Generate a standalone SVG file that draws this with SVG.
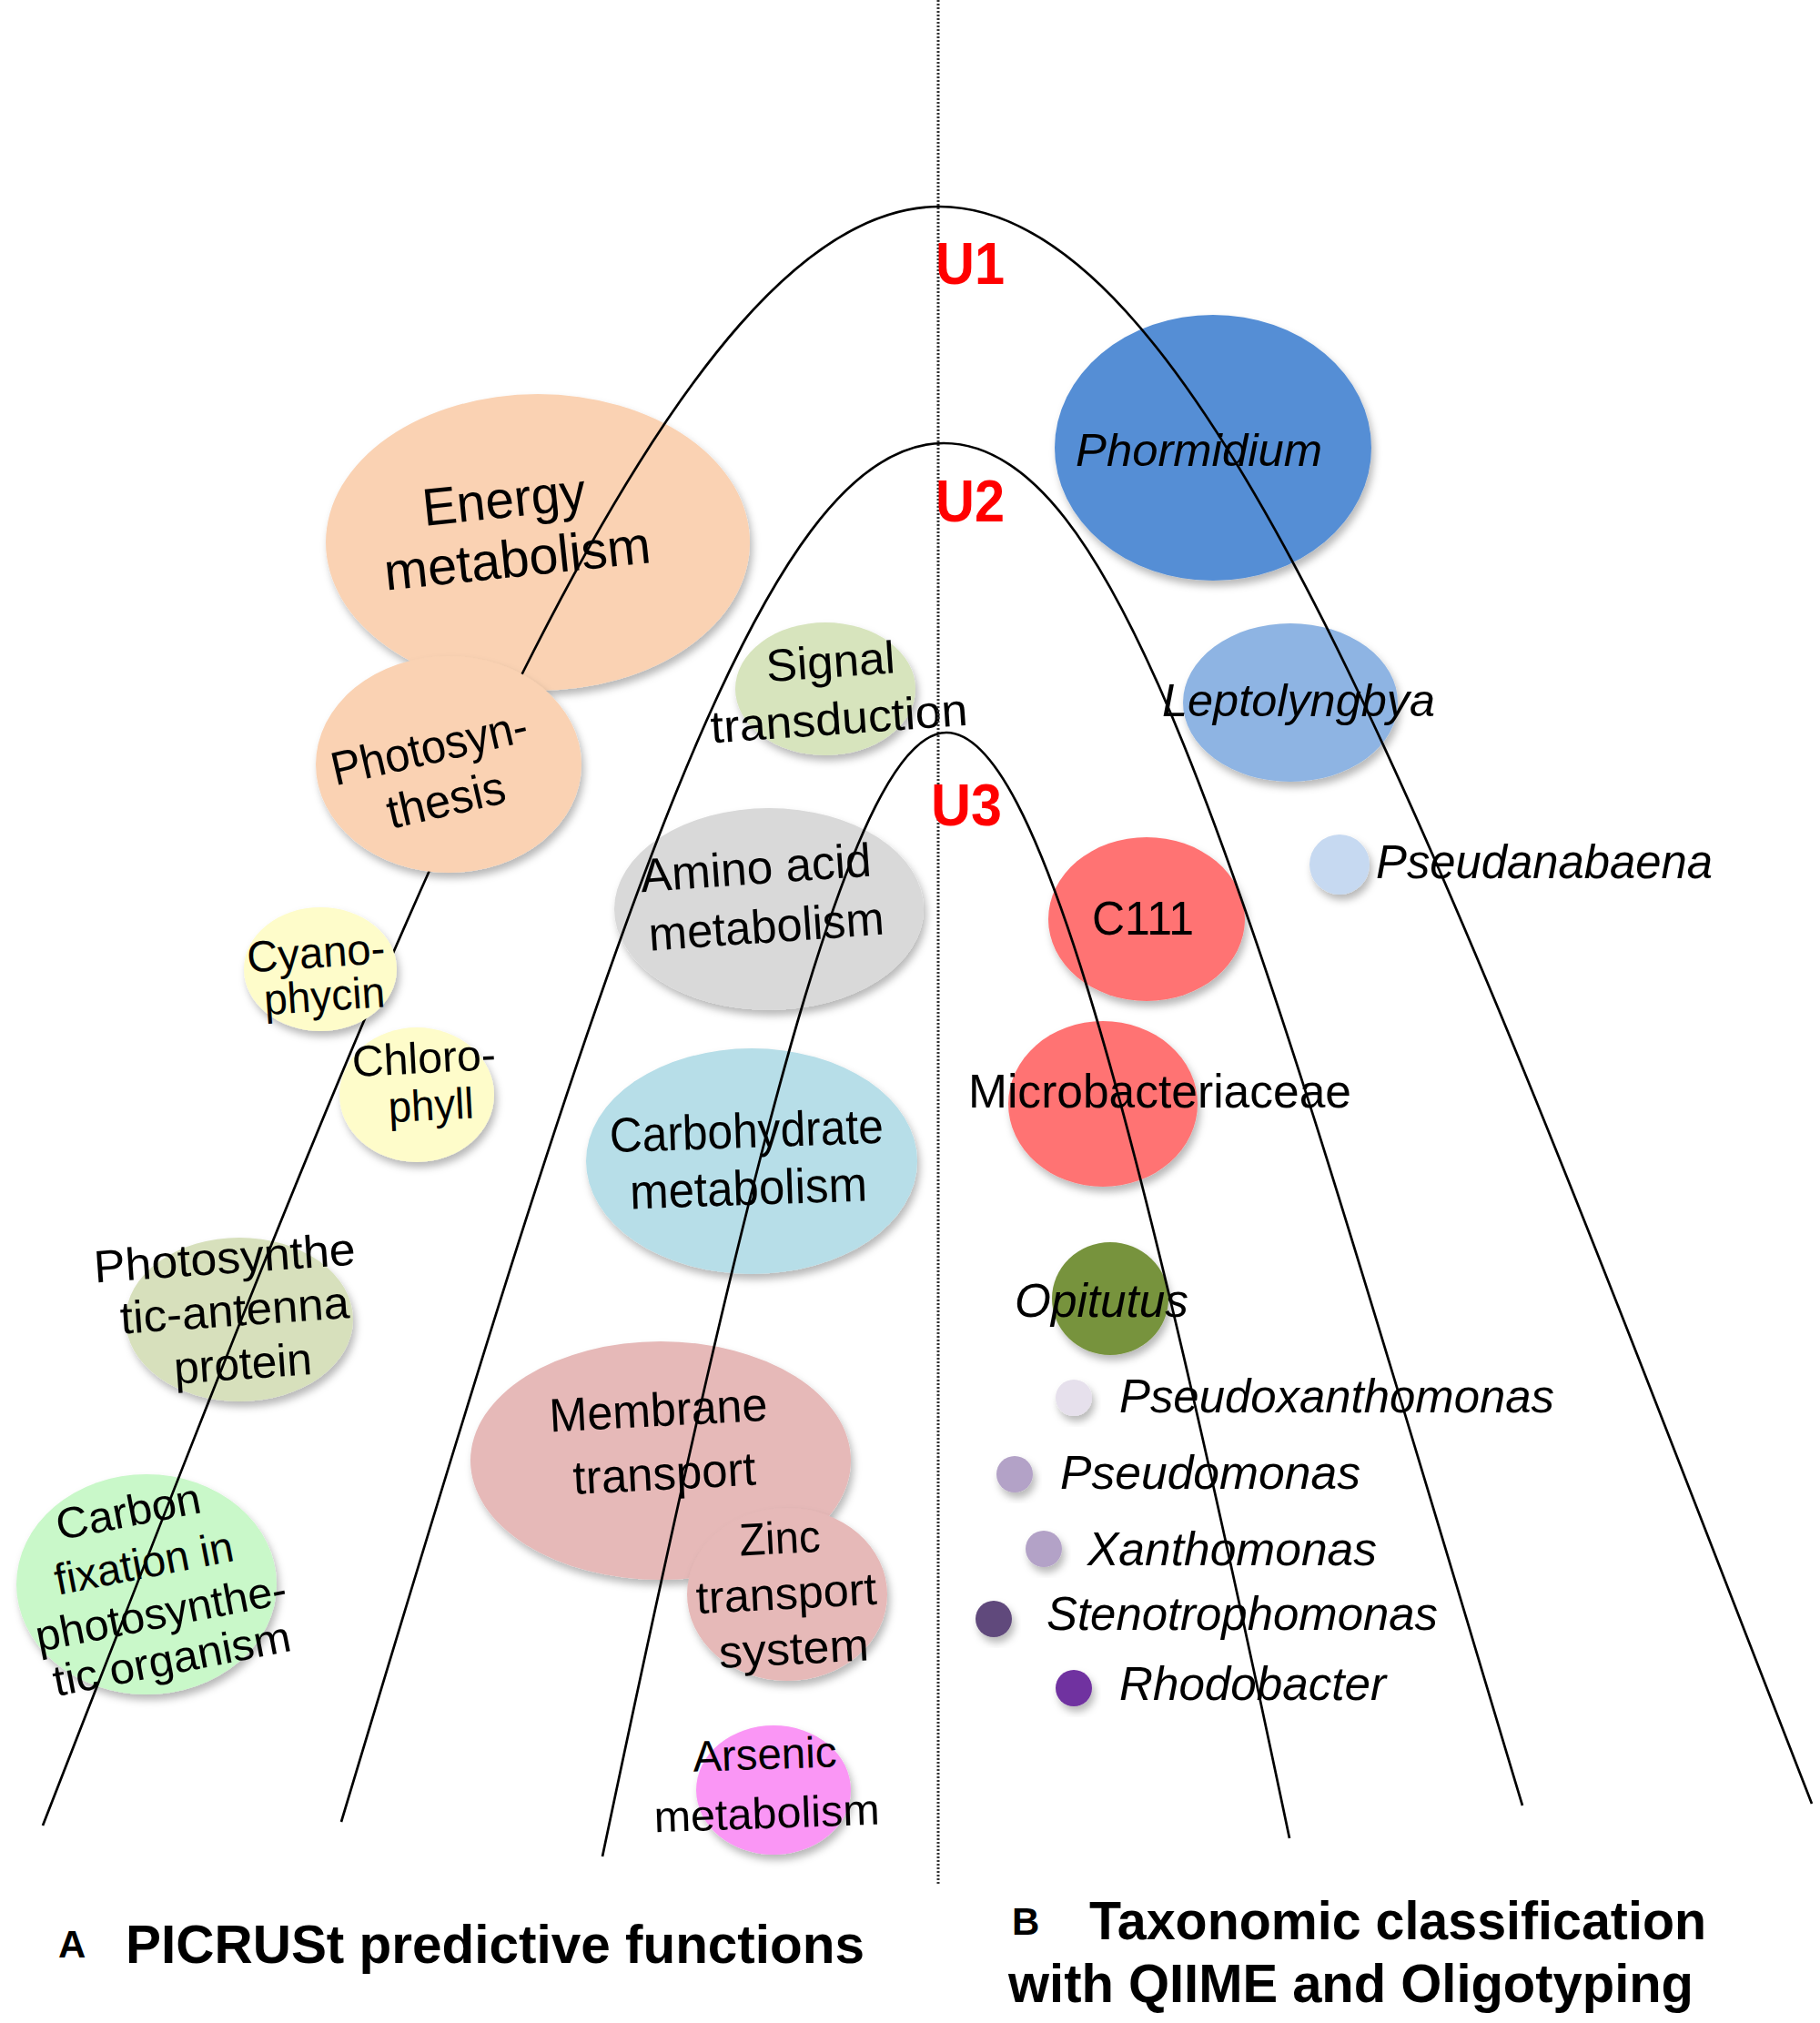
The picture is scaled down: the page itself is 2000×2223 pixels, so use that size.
<svg xmlns="http://www.w3.org/2000/svg" width="2000" height="2223" viewBox="0 0 2000 2223">
<defs>
<filter id="sh" x="-20%" y="-20%" width="145%" height="150%">
<feDropShadow dx="3" dy="6" stdDeviation="4" flood-color="#000" flood-opacity="0.28"/>
</filter>
<style>
.t{font-family:"Liberation Sans",Arial,sans-serif;fill:#000;}
.m{text-anchor:middle;}
.i{font-style:italic;}
.b{font-weight:bold;}
.e{filter:url(#sh);}
.curve{fill:none;stroke:#000;stroke-width:2.7;}
.dot{stroke:#333;stroke-width:3;stroke-dasharray:2 2;}
.u{font-family:"Liberation Sans",Arial,sans-serif;font-weight:bold;fill:#FF0000;font-size:64px;}
</style>
</defs>
<rect width="2000" height="2223" fill="#fff"/>

<g id="energy">
<ellipse class="e" cx="591" cy="596" rx="233" ry="163" fill="#FAD2B3"/>
<g transform="rotate(-6 563 600)">
<text class="t m" x="559" y="568" font-size="58" textLength="180" lengthAdjust="spacingAndGlyphs">Energy</text>
<text class="t m" x="567" y="634" font-size="58" textLength="294" lengthAdjust="spacingAndGlyphs">metabolism</text>
</g>
</g>
<g id="signal">
<ellipse class="e" cx="907" cy="757" rx="99" ry="73" fill="#D7E4BD"/>
<g transform="rotate(-4 918 775)">
<text class="t m" x="916" y="744" font-size="50" textLength="142" lengthAdjust="spacingAndGlyphs">Signal</text>
<text class="t m" x="921" y="807" font-size="50" textLength="283" lengthAdjust="spacingAndGlyphs">transduction</text>
</g>
</g>
<g id="amino">
<ellipse class="e" cx="845" cy="999" rx="170" ry="111" fill="#D9D9D9"/>
<g transform="rotate(-4 838 1003)">
<text class="t m" x="834" y="971" font-size="52" textLength="254" lengthAdjust="spacingAndGlyphs">Amino acid</text>
<text class="t m" x="841" y="1036" font-size="52" textLength="259" lengthAdjust="spacingAndGlyphs">metabolism</text>
</g>
</g>
<g id="carbohydrate">
<ellipse class="e" cx="826" cy="1276" rx="182" ry="124" fill="#B7DEE8"/>
<g transform="rotate(-2 822 1292)">
<text class="t m" x="822" y="1261" font-size="54" textLength="301" lengthAdjust="spacingAndGlyphs">Carbohydrate</text>
<text class="t m" x="822" y="1324" font-size="54" textLength="261" lengthAdjust="spacingAndGlyphs">metabolism</text>
</g>
</g>
<g id="membrane">
<ellipse class="e" cx="726" cy="1605" rx="209" ry="131" fill="#E6B9B8"/>
<g transform="rotate(-3 727 1600)">
<text class="t m" x="726" y="1567" font-size="52" textLength="240" lengthAdjust="spacingAndGlyphs">Membrane</text>
<text class="t m" x="729" y="1637" font-size="52" textLength="201" lengthAdjust="spacingAndGlyphs">transport</text>
</g>
</g>
<g id="zinc">
<ellipse class="e" cx="865" cy="1752" rx="110" ry="95" fill="#E6B9B8"/>
<g transform="rotate(-3 865 1768)">
<text class="t m" x="861" y="1707" font-size="50" textLength="89" lengthAdjust="spacingAndGlyphs">Zinc</text>
<text class="t m" x="865" y="1768" font-size="50" textLength="199" lengthAdjust="spacingAndGlyphs">transport</text>
<text class="t m" x="870" y="1829" font-size="50" textLength="165" lengthAdjust="spacingAndGlyphs">system</text>
</g>
</g>
<g id="arsenic">
<ellipse class="e" cx="850" cy="1967" rx="85" ry="71" fill="#FA96F5"/>
<g transform="rotate(-2 842 1976)">
<text class="t m" x="842" y="1944" font-size="48" textLength="158" lengthAdjust="spacingAndGlyphs">Arsenic</text>
<text class="t m" x="842" y="2009" font-size="48" textLength="248" lengthAdjust="spacingAndGlyphs">metabolism</text>
</g>
</g>
<g id="chlorophyll">
<ellipse class="e" cx="458" cy="1203" rx="85" ry="74" fill="#FEFCCA"/>
<g transform="rotate(-3 470 1205)">
<text class="t m" x="468" y="1179" font-size="48" textLength="158" lengthAdjust="spacingAndGlyphs">Chloro-</text>
<text class="t m" x="473" y="1231" font-size="48" textLength="94" lengthAdjust="spacingAndGlyphs">phyll</text>
</g>
</g>
<g id="antenna">
<ellipse class="e" cx="263" cy="1450" rx="125" ry="90" fill="#D7E0BC"/>
<g transform="rotate(-4 257 1457)">
<text class="t m" x="252" y="1399" font-size="50" textLength="288" lengthAdjust="spacingAndGlyphs">Photosynthe</text>
<text class="t m" x="259" y="1457" font-size="50" textLength="252" lengthAdjust="spacingAndGlyphs">tic-antenna</text>
<text class="t m" x="264" y="1516" font-size="50" textLength="152" lengthAdjust="spacingAndGlyphs">protein</text>
</g>
</g>
<g id="carbon">
<ellipse class="e" cx="161" cy="1741" rx="143" ry="121" fill="#C9F8C9"/>
<g transform="rotate(-11 168 1758)">
<text class="t m" x="160" y="1674" font-size="48" textLength="161" lengthAdjust="spacingAndGlyphs">Carbon</text>
<text class="t m" x="166" y="1733" font-size="48" textLength="199" lengthAdjust="spacingAndGlyphs">fixation in</text>
<text class="t m" x="174" y="1790" font-size="48" textLength="280" lengthAdjust="spacingAndGlyphs">photosynthe-</text>
<text class="t m" x="176" y="1842" font-size="48" textLength="265" lengthAdjust="spacingAndGlyphs">tic organism</text>
</g>
</g>
<g id="phormidium">
<ellipse class="e" cx="1333" cy="492" rx="174" ry="146" fill="#558ED5"/>
<text class="t i" x="1182" y="512" font-size="50" textLength="271" lengthAdjust="spacingAndGlyphs">Phormidium</text>
</g>
<g id="leptolyngbya">
<ellipse class="e" cx="1418" cy="772" rx="118" ry="87" fill="#8EB4E3"/>
<text class="t i" x="1277" y="787" font-size="50" textLength="300" lengthAdjust="spacingAndGlyphs">Leptolyngbya</text>
</g>
<g id="pseudanabaena">
<circle class="e" cx="1472" cy="950" r="33" fill="#C6D9F1"/>
<text class="t i" x="1512" y="965" font-size="51" textLength="370" lengthAdjust="spacingAndGlyphs">Pseudanabaena</text>
</g>
<g id="c111">
<ellipse class="e" cx="1260" cy="1010" rx="108" ry="90" fill="#FF7373"/>
<text class="t" x="1200" y="1027" font-size="52" textLength="112" lengthAdjust="spacingAndGlyphs">C111</text>
</g>
<g id="microbacteriaceae">
<ellipse class="e" cx="1212" cy="1213" rx="104" ry="91" fill="#FF7373"/>
<text class="t" x="1064" y="1217" font-size="52" textLength="421" lengthAdjust="spacingAndGlyphs">Microbacteriaceae</text>
</g>
<g id="opitutus">
<ellipse class="e" cx="1220" cy="1427" rx="64" ry="62" fill="#77933C"/>
<text class="t i" x="1115" y="1447" font-size="52" textLength="191" lengthAdjust="spacingAndGlyphs">Opitutus</text>
</g>
<g id="pseudoxanthomonas">
<circle class="e" cx="1180" cy="1536" r="20" fill="#E6E0EC"/>
<text class="t i" x="1230" y="1552" font-size="52" textLength="478" lengthAdjust="spacingAndGlyphs">Pseudoxanthomonas</text>
</g>
<g id="pseudomonas">
<circle class="e" cx="1115" cy="1620" r="20" fill="#B3A2C7"/>
<text class="t i" x="1165" y="1636" font-size="52" textLength="330" lengthAdjust="spacingAndGlyphs">Pseudomonas</text>
</g>
<g id="xanthomonas">
<circle class="e" cx="1147" cy="1702" r="20" fill="#B3A2C7"/>
<text class="t i" x="1195" y="1720" font-size="52" textLength="318" lengthAdjust="spacingAndGlyphs">Xanthomonas</text>
</g>
<g id="stenotrophomonas">
<circle class="e" cx="1092" cy="1779" r="20" fill="#604A7B"/>
<text class="t i" x="1150" y="1791" font-size="52" textLength="430" lengthAdjust="spacingAndGlyphs">Stenotrophomonas</text>
</g>
<g id="rhodobacter">
<circle class="e" cx="1180" cy="1855" r="20" fill="#7030A0"/>
<text class="t i" x="1230" y="1868" font-size="52" textLength="293" lengthAdjust="spacingAndGlyphs">Rhodobacter</text>
</g>

<g id="connectors">
<line class="dot" x1="1031" y1="0" x2="1031" y2="2070"/>
<path id="U1-curve" class="curve" d="M47,2006 C437,1006 732,227 1032,227 C1332,227 1601,982 1991,1982"/>
<path id="U2-curve" class="curve" d="M375,2002 C675,1002 837,487 1037,487 C1237,487 1373,984 1673,1984"/>
<path id="U3-curve" class="curve" d="M662,2040 C830,1240 940,805 1040,805 C1140,805 1249,1220 1417,2020"/>
</g>

<g id="photosynthesis">
<ellipse class="e" cx="493" cy="840" rx="146" ry="119" fill="#FAD2B3"/>
<g transform="rotate(-13 482 862)">
<text class="t m" x="481" y="838" font-size="52" textLength="220" lengthAdjust="spacingAndGlyphs">Photosyn-</text>
<text class="t m" x="486" y="898" font-size="52" textLength="132" lengthAdjust="spacingAndGlyphs">thesis</text>
</g>
</g>
<g id="cyanophycin">
<ellipse class="e" cx="352" cy="1065" rx="84" ry="68" fill="#FEFCCA"/>
<g transform="rotate(-4 353 1087)">
<text class="t m" x="350" y="1063" font-size="48" textLength="152" lengthAdjust="spacingAndGlyphs">Cyano-</text>
<text class="t m" x="356" y="1111" font-size="48" textLength="133" lengthAdjust="spacingAndGlyphs">phycin</text>
</g>
</g>

<g id="levels">
<text class="u" x="1028" y="312" textLength="76" lengthAdjust="spacingAndGlyphs">U1</text>
<text class="u" x="1028" y="573" textLength="76" lengthAdjust="spacingAndGlyphs">U2</text>
<text class="u" x="1023" y="907" textLength="78" lengthAdjust="spacingAndGlyphs">U3</text>
</g>

<g id="titles">
<text class="t b" x="64" y="2151" font-size="42">A</text>
<text class="t b" x="138" y="2157" font-size="60" textLength="812" lengthAdjust="spacingAndGlyphs">PICRUSt predictive functions</text>
<text class="t b" x="1112" y="2126" font-size="42">B</text>
<text class="t b" x="1197" y="2131" font-size="60" textLength="678" lengthAdjust="spacingAndGlyphs">Taxonomic classification</text>
<text class="t b" x="1108" y="2200" font-size="60" textLength="753" lengthAdjust="spacingAndGlyphs">with QIIME and Oligotyping</text>
</g>
</svg>
